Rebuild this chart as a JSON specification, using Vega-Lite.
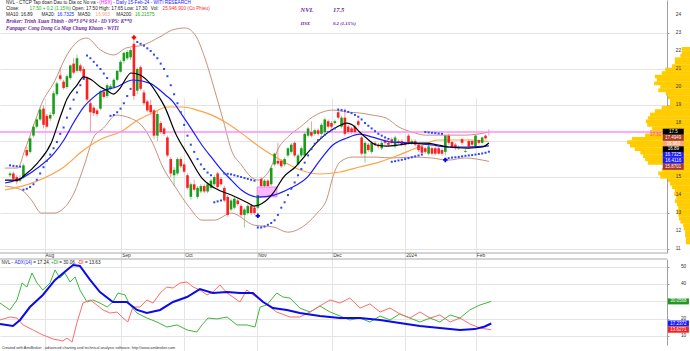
{
"$schema": "https://vega.github.io/schema/vega-lite/v6.json",
"width": 667, "height": 351,
"autosize": {"type": "none"},
"padding": {"left": 0, "top": 0, "right": 23, "bottom": 0},
"background": "white",
"config": {"view": {"stroke": null}, "axis": {"labelFont": "Liberation Sans"}, "text": {"font": "Liberation Sans"}},
"datasets": {
"candles": [
{"t":0,"o":15.1,"h":15.3,"l":15.0,"c":15.2,"sar":15.65},
{"t":1,"o":15.2,"h":15.3,"l":14.85,"c":14.9,"sar":15.62},
{"t":2,"o":15.0,"h":15.1,"l":14.6,"c":14.75,"sar":15.6},
{"t":3,"o":14.8,"h":15.1,"l":14.7,"c":14.95,"sar":15.58},
{"t":4,"o":15.0,"h":15.75,"l":14.9,"c":15.65,"sar":14.3},
{"t":5,"o":16.5,"h":16.7,"l":16.1,"c":16.2,"sar":14.35},
{"t":6,"o":16.4,"h":17.25,"l":16.3,"c":17.15,"sar":14.45},
{"t":7,"o":17.3,"h":17.95,"l":17.2,"c":17.8,"sar":14.6},
{"t":8,"o":17.8,"h":18.3,"l":17.7,"c":18.2,"sar":14.85},
{"t":9,"o":18.2,"h":18.9,"l":18.1,"c":18.75,"sar":15.2},
{"t":10,"o":18.8,"h":19.0,"l":17.7,"c":17.9,"sar":15.55},
{"t":11,"o":18.4,"h":18.5,"l":17.7,"c":17.8,"sar":15.9},
{"t":12,"o":18.25,"h":18.6,"l":18.1,"c":18.45,"sar":16.25},
{"t":13,"o":18.5,"h":19.8,"l":18.4,"c":19.65,"sar":16.6},
{"t":14,"o":19.6,"h":20.3,"l":19.5,"c":20.2,"sar":16.95},
{"t":15,"o":20.65,"h":21.1,"l":20.35,"c":20.45,"sar":17.4},
{"t":16,"o":20.3,"h":20.4,"l":19.85,"c":19.95,"sar":17.75},
{"t":17,"o":20.0,"h":20.7,"l":19.9,"c":20.6,"sar":18.3},
{"t":18,"o":20.5,"h":21.25,"l":20.4,"c":21.2,"sar":18.8},
{"t":19,"o":21.3,"h":21.6,"l":20.7,"c":20.8,"sar":19.3},
{"t":20,"o":20.9,"h":21.8,"l":20.8,"c":21.6,"sar":19.7},
{"t":21,"o":21.2,"h":21.3,"l":20.8,"c":20.9,"sar":20.1},
{"t":22,"o":21.0,"h":21.15,"l":20.4,"c":20.5,"sar":20.45},
{"t":23,"o":20.5,"h":20.6,"l":19.2,"c":19.3,"sar":21.75},
{"t":24,"o":19.1,"h":19.3,"l":17.5,"c":18.6,"sar":21.6},
{"t":25,"o":18.85,"h":18.95,"l":18.4,"c":18.55,"sar":21.4},
{"t":26,"o":18.7,"h":18.8,"l":18.35,"c":18.5,"sar":21.2},
{"t":27,"o":18.8,"h":19.85,"l":18.7,"c":19.75,"sar":21.0},
{"t":28,"o":19.75,"h":19.85,"l":19.35,"c":19.45,"sar":20.75},
{"t":29,"o":19.5,"h":20.2,"l":19.4,"c":20.1,"sar":20.5},
{"t":30,"o":19.9,"h":20.15,"l":19.8,"c":20.05,"sar":18.4},
{"t":31,"o":20.0,"h":20.5,"l":19.9,"c":20.4,"sar":18.45},
{"t":32,"o":20.4,"h":20.95,"l":20.3,"c":20.9,"sar":18.6},
{"t":33,"o":20.85,"h":21.5,"l":20.8,"c":21.4,"sar":18.8},
{"t":34,"o":21.45,"h":21.95,"l":21.3,"c":21.9,"sar":19.1},
{"t":35,"o":21.6,"h":22.05,"l":21.5,"c":21.95,"sar":19.5},
{"t":36,"o":21.65,"h":22.15,"l":21.5,"c":22.05,"sar":19.9},
{"t":37,"o":22.4,"h":22.6,"l":19.3,"c":19.5,"sar":20.3},
{"t":38,"o":19.8,"h":21.1,"l":19.6,"c":21.0,"sar":22.5},
{"t":39,"o":21.1,"h":21.2,"l":19.8,"c":19.9,"sar":22.4},
{"t":40,"o":19.7,"h":19.85,"l":19.0,"c":19.1,"sar":22.3},
{"t":41,"o":19.2,"h":19.3,"l":18.6,"c":18.7,"sar":22.15},
{"t":42,"o":19.0,"h":19.3,"l":18.5,"c":18.6,"sar":22.0},
{"t":43,"o":18.7,"h":18.8,"l":17.1,"c":17.3,"sar":21.8},
{"t":44,"o":17.3,"h":18.7,"l":17.0,"c":18.5,"sar":21.6},
{"t":45,"o":18.0,"h":18.1,"l":17.4,"c":17.5,"sar":21.3},
{"t":46,"o":17.7,"h":17.8,"l":17.3,"c":17.4,"sar":21.0},
{"t":47,"o":17.2,"h":17.3,"l":16.1,"c":16.2,"sar":20.6},
{"t":48,"o":16.0,"h":16.1,"l":15.0,"c":15.2,"sar":20.1},
{"t":49,"o":15.1,"h":15.55,"l":14.5,"c":15.4,"sar":19.6},
{"t":50,"o":15.2,"h":16.1,"l":15.1,"c":16.0,"sar":19.1},
{"t":51,"o":16.0,"h":16.1,"l":15.5,"c":15.6,"sar":18.6},
{"t":52,"o":15.7,"h":15.8,"l":15.2,"c":15.3,"sar":17.9},
{"t":53,"o":15.1,"h":15.2,"l":14.3,"c":14.4,"sar":17.3},
{"t":54,"o":13.9,"h":14.7,"l":13.75,"c":14.6,"sar":16.8},
{"t":55,"o":14.6,"h":14.85,"l":14.2,"c":14.3,"sar":16.4},
{"t":56,"o":13.9,"h":14.5,"l":13.8,"c":14.4,"sar":16.0},
{"t":57,"o":14.2,"h":14.6,"l":14.1,"c":14.5,"sar":15.7},
{"t":58,"o":14.5,"h":14.6,"l":14.1,"c":14.2,"sar":15.45},
{"t":59,"o":14.2,"h":14.7,"l":14.1,"c":14.6,"sar":15.25},
{"t":60,"o":14.4,"h":14.9,"l":14.3,"c":14.8,"sar":15.1},
{"t":61,"o":14.6,"h":15.1,"l":14.5,"c":15.0,"sar":13.6},
{"t":62,"o":15.2,"h":15.3,"l":14.35,"c":14.45,"sar":13.65},
{"t":63,"o":14.9,"h":15.0,"l":14.5,"c":14.6,"sar":13.7},
{"t":64,"o":14.4,"h":14.5,"l":13.6,"c":13.7,"sar":15.2},
{"t":65,"o":13.9,"h":14.0,"l":12.8,"c":12.9,"sar":15.18},
{"t":66,"o":13.2,"h":13.8,"l":13.1,"c":13.7,"sar":15.15},
{"t":67,"o":13.3,"h":13.9,"l":13.2,"c":13.8,"sar":15.1},
{"t":68,"o":13.7,"h":13.8,"l":13.4,"c":13.5,"sar":15.05},
{"t":69,"o":13.4,"h":13.5,"l":12.8,"c":12.9,"sar":15.0},
{"t":70,"o":12.9,"h":13.3,"l":12.2,"c":13.2,"sar":14.95},
{"t":71,"o":13.0,"h":13.5,"l":12.9,"c":13.4,"sar":14.9},
{"t":72,"o":13.4,"h":13.5,"l":12.9,"c":13.0,"sar":14.85},
{"t":73,"o":13.3,"h":13.4,"l":12.9,"c":13.0,"sar":14.8},
{"t":74,"o":13.3,"h":14.1,"l":13.2,"c":14.0,"sar":12.2},
{"t":75,"o":14.9,"h":15.0,"l":14.4,"c":14.5,"sar":12.2},
{"t":76,"o":14.5,"h":14.9,"l":14.4,"c":14.8,"sar":12.25},
{"t":77,"o":14.8,"h":14.9,"l":14.4,"c":14.5,"sar":12.35},
{"t":78,"o":14.6,"h":15.6,"l":14.5,"c":15.5,"sar":12.45},
{"t":79,"o":15.7,"h":16.35,"l":15.6,"c":16.3,"sar":12.6},
{"t":80,"o":15.9,"h":16.9,"l":15.65,"c":15.75,"sar":12.9},
{"t":81,"o":15.9,"h":16.0,"l":15.5,"c":15.6,"sar":13.3},
{"t":82,"o":15.7,"h":16.1,"l":15.6,"c":16.0,"sar":13.6},
{"t":83,"o":16.2,"h":16.65,"l":16.1,"c":16.6,"sar":14.0},
{"t":84,"o":16.4,"h":16.9,"l":16.3,"c":16.8,"sar":14.35},
{"t":85,"o":16.9,"h":17.0,"l":16.1,"c":16.2,"sar":14.7},
{"t":86,"o":15.7,"h":16.3,"l":15.6,"c":16.2,"sar":15.1},
{"t":87,"o":16.2,"h":16.7,"l":16.1,"c":16.6,"sar":15.45},
{"t":88,"o":16.2,"h":17.5,"l":16.1,"c":17.4,"sar":15.8},
{"t":89,"o":17.3,"h":17.8,"l":17.2,"c":17.7,"sar":16.2},
{"t":90,"o":17.5,"h":18.1,"l":17.2,"c":17.3,"sar":16.55},
{"t":91,"o":17.4,"h":17.7,"l":17.3,"c":17.6,"sar":16.85},
{"t":92,"o":17.6,"h":17.7,"l":17.3,"c":17.4,"sar":17.05},
{"t":93,"o":17.4,"h":18.0,"l":17.3,"c":17.9,"sar":17.2},
{"t":94,"o":17.5,"h":18.3,"l":17.4,"c":18.2,"sar":17.35},
{"t":95,"o":18.1,"h":18.2,"l":17.7,"c":17.8,"sar":17.5},
{"t":96,"o":18.0,"h":18.1,"l":17.7,"c":17.8,"sar":17.6},
{"t":97,"o":18.0,"h":18.2,"l":17.9,"c":18.1,"sar":17.7},
{"t":98,"o":18.6,"h":18.7,"l":18.2,"c":18.3,"sar":18.75},
{"t":99,"o":17.8,"h":18.4,"l":17.7,"c":18.3,"sar":18.72},
{"t":100,"o":18.3,"h":18.8,"l":17.3,"c":17.4,"sar":18.68},
{"t":101,"o":17.8,"h":17.9,"l":17.4,"c":17.5,"sar":18.62},
{"t":102,"o":17.7,"h":17.8,"l":17.4,"c":17.5,"sar":18.55},
{"t":103,"o":17.8,"h":17.9,"l":17.4,"c":17.5,"sar":18.45},
{"t":104,"o":18.1,"h":18.2,"l":17.8,"c":17.9,"sar":18.35},
{"t":105,"o":17.2,"h":17.3,"l":16.2,"c":16.3,"sar":18.2},
{"t":106,"o":16.3,"h":17.0,"l":15.8,"c":16.9,"sar":18.0},
{"t":107,"o":16.8,"h":16.9,"l":16.4,"c":16.5,"sar":17.85},
{"t":108,"o":16.4,"h":17.0,"l":16.3,"c":16.9,"sar":17.7},
{"t":109,"o":16.9,"h":17.0,"l":16.7,"c":16.8,"sar":17.55},
{"t":110,"o":16.8,"h":16.9,"l":16.6,"c":16.7,"sar":17.4},
{"t":111,"o":16.6,"h":17.0,"l":16.5,"c":16.9,"sar":17.3},
{"t":112,"o":17.0,"h":17.1,"l":16.8,"c":16.9,"sar":17.2},
{"t":113,"o":16.9,"h":17.0,"l":16.7,"c":16.8,"sar":17.12},
{"t":114,"o":17.1,"h":17.2,"l":16.8,"c":16.9,"sar":15.85},
{"t":115,"o":16.7,"h":17.3,"l":16.6,"c":17.2,"sar":15.88},
{"t":116,"o":17.0,"h":17.1,"l":16.8,"c":16.9,"sar":15.92},
{"t":117,"o":17.0,"h":17.1,"l":16.7,"c":16.8,"sar":15.96},
{"t":118,"o":16.9,"h":17.0,"l":16.7,"c":16.8,"sar":16.0},
{"t":119,"o":17.3,"h":17.4,"l":16.8,"c":16.9,"sar":16.05},
{"t":120,"o":16.9,"h":17.1,"l":16.8,"c":17.0,"sar":16.1},
{"t":121,"o":17.0,"h":17.1,"l":16.7,"c":16.8,"sar":16.15},
{"t":122,"o":16.8,"h":16.9,"l":16.4,"c":16.5,"sar":16.2},
{"t":123,"o":16.7,"h":16.8,"l":16.3,"c":16.35,"sar":16.25},
{"t":124,"o":16.6,"h":16.7,"l":16.3,"c":16.4,"sar":17.5},
{"t":125,"o":16.3,"h":16.8,"l":16.2,"c":16.7,"sar":17.48},
{"t":126,"o":16.6,"h":16.7,"l":16.2,"c":16.3,"sar":17.46},
{"t":127,"o":16.6,"h":16.7,"l":16.2,"c":16.3,"sar":17.44},
{"t":128,"o":16.6,"h":16.7,"l":16.25,"c":16.3,"sar":17.42},
{"t":129,"o":16.5,"h":16.6,"l":16.2,"c":16.3,"sar":17.4},
{"t":130,"o":16.4,"h":17.35,"l":16.2,"c":17.3,"sar":16.0},
{"t":131,"o":17.3,"h":17.4,"l":16.8,"c":16.9,"sar":16.05},
{"t":132,"o":16.95,"h":17.0,"l":16.6,"c":16.65,"sar":16.08},
{"t":133,"o":16.8,"h":16.9,"l":16.5,"c":16.6,"sar":16.1},
{"t":134,"o":16.6,"h":16.75,"l":16.5,"c":16.65,"sar":16.12},
{"t":135,"o":17.1,"h":17.15,"l":16.8,"c":16.9,"sar":16.15},
{"t":136,"o":16.4,"h":16.55,"l":16.35,"c":16.45,"sar":16.18},
{"t":137,"o":17.0,"h":17.1,"l":16.6,"c":16.7,"sar":16.2},
{"t":138,"o":17.0,"h":17.05,"l":16.7,"c":16.8,"sar":16.22},
{"t":139,"o":16.7,"h":17.35,"l":16.6,"c":17.3,"sar":16.25},
{"t":140,"o":17.05,"h":17.1,"l":16.8,"c":16.9,"sar":16.28},
{"t":141,"o":16.9,"h":17.25,"l":16.85,"c":17.2,"sar":16.31},
{"t":142,"o":17.3,"h":17.35,"l":17.1,"c":17.15,"sar":16.35},
{"t":143,"o":17.5,"h":17.65,"l":17.3,"c":17.5,"sar":16.41}
],
"lines": [
{"s":"MA10","t":-1.5,"v":14.83},{"s":"MA10","t":2.3,"v":14.83},{"s":"MA10","t":4.4,"v":15.11},{"s":"MA10","t":8.2,"v":15.78},{"s":"MA10","t":12.3,"v":16.89},{"s":"MA10","t":15.3,"v":18.5},{"s":"MA10","t":17.0,"v":19.33},{"s":"MA10","t":20.0,"v":20.11},{"s":"MA10","t":22.0,"v":20.56},{"s":"MA10","t":24.4,"v":20.39},{"s":"MA10","t":27.0,"v":20.0},{"s":"MA10","t":28.8,"v":19.83},{"s":"MA10","t":30.9,"v":19.61},{"s":"MA10","t":32.9,"v":19.94},{"s":"MA10","t":34.7,"v":20.5},{"s":"MA10","t":36.1,"v":20.78},{"s":"MA10","t":38.8,"v":20.67},{"s":"MA10","t":41.7,"v":20.22},{"s":"MA10","t":44.7,"v":19.39},{"s":"MA10","t":46.1,"v":18.94},{"s":"MA10","t":49.4,"v":17.44},{"s":"MA10","t":53.5,"v":16.11},{"s":"MA10","t":57.3,"v":14.94},{"s":"MA10","t":61.1,"v":14.39},{"s":"MA10","t":66.1,"v":14.0},{"s":"MA10","t":71.1,"v":13.56},{"s":"MA10","t":72.9,"v":13.39},{"s":"MA10","t":75.9,"v":13.61},{"s":"MA10","t":78.8,"v":14.17},{"s":"MA10","t":81.7,"v":15.0},{"s":"MA10","t":85.2,"v":15.56},{"s":"MA10","t":88.8,"v":16.33},{"s":"MA10","t":91.7,"v":16.94},{"s":"MA10","t":94.7,"v":17.44},{"s":"MA10","t":97.6,"v":17.78},{"s":"MA10","t":100.6,"v":18.0},{"s":"MA10","t":102.3,"v":17.89},{"s":"MA10","t":104.4,"v":17.5},{"s":"MA10","t":106.4,"v":17.17},{"s":"MA10","t":109.4,"v":16.78},{"s":"MA10","t":112.3,"v":16.72},{"s":"MA10","t":116.1,"v":16.78},{"s":"MA10","t":120.0,"v":16.89},{"s":"MA10","t":124.1,"v":16.89},{"s":"MA10","t":127.9,"v":16.78},{"s":"MA10","t":130.9,"v":16.67},{"s":"MA10","t":136.7,"v":16.61},{"s":"MA10","t":141.1,"v":16.67},{"s":"MA10","t":143,"v":16.89},
{"s":"MA20","t":-1.5,"v":14.67},{"s":"MA20","t":3.5,"v":14.94},{"s":"MA20","t":8.2,"v":15.5},{"s":"MA20","t":13.2,"v":16.33},{"s":"MA20","t":16.1,"v":17.06},{"s":"MA20","t":19.1,"v":18.06},{"s":"MA20","t":22.0,"v":18.89},{"s":"MA20","t":25.0,"v":19.44},{"s":"MA20","t":27.0,"v":19.72},{"s":"MA20","t":31.7,"v":20.0},{"s":"MA20","t":36.7,"v":20.39},{"s":"MA20","t":41.7,"v":20.22},{"s":"MA20","t":46.4,"v":19.56},{"s":"MA20","t":48.5,"v":19.22},{"s":"MA20","t":51.4,"v":18.44},{"s":"MA20","t":54.4,"v":17.61},{"s":"MA20","t":57.3,"v":16.78},{"s":"MA20","t":60.3,"v":16.06},{"s":"MA20","t":63.2,"v":15.39},{"s":"MA20","t":66.1,"v":14.83},{"s":"MA20","t":69.1,"v":14.28},{"s":"MA20","t":74.1,"v":13.89},{"s":"MA20","t":78.8,"v":14.0},{"s":"MA20","t":83.8,"v":14.39},{"s":"MA20","t":88.8,"v":15.0},{"s":"MA20","t":92.6,"v":15.94},{"s":"MA20","t":96.4,"v":16.78},{"s":"MA20","t":100.6,"v":17.17},{"s":"MA20","t":104.4,"v":17.39},{"s":"MA20","t":108.2,"v":17.22},{"s":"MA20","t":114.1,"v":16.94},{"s":"MA20","t":120.0,"v":16.89},{"s":"MA20","t":125.9,"v":16.78},{"s":"MA20","t":130.9,"v":16.67},{"s":"MA20","t":136.7,"v":16.67},{"s":"MA20","t":143,"v":16.73},
{"s":"MA50","t":-1.5,"v":14.28},{"s":"MA50","t":7.3,"v":14.72},{"s":"MA50","t":16.1,"v":15.56},{"s":"MA50","t":22.0,"v":16.5},{"s":"MA50","t":27.9,"v":17.17},{"s":"MA50","t":32.9,"v":17.5},{"s":"MA50","t":38.2,"v":18.17},{"s":"MA50","t":42.6,"v":18.56},{"s":"MA50","t":47.0,"v":18.89},{"s":"MA50","t":51.4,"v":18.89},{"s":"MA50","t":55.9,"v":18.72},{"s":"MA50","t":60.3,"v":18.44},{"s":"MA50","t":64.7,"v":18.0},{"s":"MA50","t":69.1,"v":17.44},{"s":"MA50","t":75.0,"v":16.61},{"s":"MA50","t":80.9,"v":15.94},{"s":"MA50","t":86.7,"v":15.39},{"s":"MA50","t":92.6,"v":15.17},{"s":"MA50","t":98.5,"v":15.28},{"s":"MA50","t":104.4,"v":15.56},{"s":"MA50","t":110.3,"v":15.83},{"s":"MA50","t":116.1,"v":16.22},{"s":"MA50","t":122.0,"v":16.67},{"s":"MA50","t":127.9,"v":17.06},{"s":"MA50","t":137.6,"v":17.06},{"s":"MA50","t":143,"v":16.96},
{"s":"BBU","t":-1.5,"v":15.5},{"s":"BBU","t":2.3,"v":15.5},{"s":"BBU","t":4.4,"v":16.5},{"s":"BBU","t":7.3,"v":18.0},{"s":"BBU","t":9.4,"v":19.06},{"s":"BBU","t":13.2,"v":20.28},{"s":"BBU","t":17.0,"v":21.78},{"s":"BBU","t":20.0,"v":22.5},{"s":"BBU","t":22.9,"v":22.72},{"s":"BBU","t":27.0,"v":22.06},{"s":"BBU","t":30.9,"v":21.78},{"s":"BBU","t":34.7,"v":22.17},{"s":"BBU","t":39.7,"v":22.33},{"s":"BBU","t":44.7,"v":22.78},{"s":"BBU","t":48.5,"v":23.17},{"s":"BBU","t":52.3,"v":23.28},{"s":"BBU","t":55.3,"v":22.89},{"s":"BBU","t":58.2,"v":21.61},{"s":"BBU","t":61.1,"v":19.83},{"s":"BBU","t":63.8,"v":18.06},{"s":"BBU","t":66.1,"v":16.5},{"s":"BBU","t":69.1,"v":15.67},{"s":"BBU","t":72.0,"v":15.0},{"s":"BBU","t":74.1,"v":14.83},{"s":"BBU","t":75.9,"v":15.0},{"s":"BBU","t":78.0,"v":15.56},{"s":"BBU","t":79.9,"v":16.5},{"s":"BBU","t":82.9,"v":17.22},{"s":"BBU","t":86.7,"v":17.78},{"s":"BBU","t":90.3,"v":18.33},{"s":"BBU","t":92.6,"v":18.56},{"s":"BBU","t":96.4,"v":18.72},{"s":"BBU","t":100.6,"v":18.61},{"s":"BBU","t":104.4,"v":18.56},{"s":"BBU","t":108.2,"v":18.44},{"s":"BBU","t":112.3,"v":18.28},{"s":"BBU","t":116.1,"v":17.78},{"s":"BBU","t":120.0,"v":17.5},{"s":"BBU","t":124.1,"v":17.33},{"s":"BBU","t":127.9,"v":17.33},{"s":"BBU","t":135.8,"v":17.33},{"s":"BBU","t":143,"v":17.49},
{"s":"BBL","t":-1.5,"v":14.5},{"s":"BBL","t":3.5,"v":14.28},{"s":"BBL","t":6.4,"v":13.72},{"s":"BBL","t":9.4,"v":13.0},{"s":"BBL","t":13.2,"v":13.0},{"s":"BBL","t":16.1,"v":13.28},{"s":"BBL","t":19.1,"v":14.11},{"s":"BBL","t":22.0,"v":15.56},{"s":"BBL","t":25.0,"v":17.22},{"s":"BBL","t":27.9,"v":17.72},{"s":"BBL","t":31.7,"v":18.44},{"s":"BBL","t":35.8,"v":18.28},{"s":"BBL","t":39.7,"v":17.78},{"s":"BBL","t":42.6,"v":16.89},{"s":"BBL","t":45.6,"v":15.56},{"s":"BBL","t":49.4,"v":14.44},{"s":"BBL","t":53.5,"v":13.33},{"s":"BBL","t":57.3,"v":12.61},{"s":"BBL","t":61.1,"v":12.61},{"s":"BBL","t":66.1,"v":13.0},{"s":"BBL","t":72.9,"v":12.33},{"s":"BBL","t":78.8,"v":12.22},{"s":"BBL","t":82.9,"v":11.94},{"s":"BBL","t":88.8,"v":12.44},{"s":"BBL","t":91.7,"v":13.0},{"s":"BBL","t":94.7,"v":13.83},{"s":"BBL","t":96.4,"v":15.0},{"s":"BBL","t":98.5,"v":15.83},{"s":"BBL","t":102.3,"v":16.11},{"s":"BBL","t":109.4,"v":16.11},{"s":"BBL","t":114.1,"v":16.06},{"s":"BBL","t":120.0,"v":16.11},{"s":"BBL","t":125.9,"v":16.06},{"s":"BBL","t":130.9,"v":15.94},{"s":"BBL","t":135.8,"v":16.06},{"s":"BBL","t":143,"v":15.87}
],
"vp": [
{"p":22.3,"vol":1.2},{"p":22.1,"vol":1.2},{"p":21.9,"vol":1.4},{"p":21.7,"vol":2.2},{"p":21.5,"vol":2.2},{"p":21.3,"vol":2.6},{"p":21.1,"vol":3.6},{"p":20.9,"vol":4.1},{"p":20.7,"vol":5.1},{"p":20.5,"vol":4.8},{"p":20.3,"vol":5.2},{"p":20.1,"vol":4.3},{"p":19.9,"vol":4.6},{"p":19.7,"vol":3.5},{"p":19.5,"vol":3.2},{"p":19.3,"vol":2.9},{"p":19.1,"vol":2.9},{"p":18.9,"vol":4.1},{"p":18.7,"vol":5.1},{"p":18.5,"vol":5.8},{"p":18.3,"vol":6.1},{"p":18.1,"vol":6.4},{"p":17.9,"vol":6.2},{"p":17.7,"vol":5.5},{"p":17.5,"vol":5.8},{"p":17.3,"vol":6.5},{"p":17.1,"vol":8.4},{"p":16.9,"vol":9.1},{"p":16.7,"vol":8.7},{"p":16.5,"vol":8.0},{"p":16.3,"vol":7.2},{"p":16.1,"vol":6.8},{"p":15.9,"vol":6.5},{"p":15.7,"vol":6.1},{"p":15.5,"vol":3.9},{"p":15.3,"vol":4.1},{"p":15.1,"vol":4.6},{"p":14.9,"vol":4.3},{"p":14.7,"vol":3.2},{"p":14.5,"vol":2.9},{"p":14.3,"vol":2.6},{"p":14.1,"vol":2.2},{"p":13.9,"vol":2.3},{"p":13.7,"vol":2.0},{"p":13.5,"vol":2.2},{"p":13.3,"vol":1.9},{"p":13.1,"vol":1.7},{"p":12.9,"vol":1.9},{"p":12.7,"vol":1.7},{"p":12.5,"vol":1.6},{"p":12.3,"vol":1.4},{"p":12.1,"vol":1.0},{"p":11.9,"vol":0.9},{"p":11.7,"vol":0.7},{"p":11.5,"vol":0.7},{"p":11.3,"vol":0.6},{"p":11.1,"vol":0.6}
],
"adx": [
{"s":"ADX","t":-1.5,"v":17.0},{"s":"ADX","t":2.3,"v":15.8},{"s":"ADX","t":4.4,"v":19.3},{"s":"ADX","t":7.3,"v":26.8},{"s":"ADX","t":11.1,"v":33.8},{"s":"ADX","t":14.7,"v":42.5},{"s":"ADX","t":18.2,"v":48.3},{"s":"ADX","t":20.0,"v":51.2},{"s":"ADX","t":22.0,"v":50.6},{"s":"ADX","t":25.0,"v":42.5},{"s":"ADX","t":27.9,"v":35.5},{"s":"ADX","t":31.7,"v":29.7},{"s":"ADX","t":35.8,"v":29.7},{"s":"ADX","t":38.8,"v":25.1},{"s":"ADX","t":41.7,"v":23.3},{"s":"ADX","t":45.6,"v":25.1},{"s":"ADX","t":49.4,"v":29.7},{"s":"ADX","t":53.5,"v":32.6},{"s":"ADX","t":57.3,"v":37.2},{"s":"ADX","t":61.1,"v":34.9},{"s":"ADX","t":65.3,"v":35.5},{"s":"ADX","t":69.1,"v":34.9},{"s":"ADX","t":72.9,"v":34.9},{"s":"ADX","t":75.9,"v":29.7},{"s":"ADX","t":78.8,"v":26.2},{"s":"ADX","t":82.9,"v":25.1},{"s":"ADX","t":86.7,"v":23.3},{"s":"ADX","t":92.6,"v":21.6},{"s":"ADX","t":98.5,"v":20.4},{"s":"ADX","t":104.4,"v":20.4},{"s":"ADX","t":110.3,"v":19.3},{"s":"ADX","t":116.1,"v":17.5},{"s":"ADX","t":122.0,"v":15.8},{"s":"ADX","t":127.9,"v":14.6},{"s":"ADX","t":133.8,"v":13.5},{"s":"ADX","t":138.2,"v":14.0},{"s":"ADX","t":141.1,"v":15.5},{"s":"ADX","t":143,"v":17.24},
{"s":"PDI","t":-1.5,"v":29.1},{"s":"PDI","t":1.4,"v":25.1},{"s":"PDI","t":3.5,"v":30.9},{"s":"PDI","t":5.0,"v":40.7},{"s":"PDI","t":6.4,"v":38.4},{"s":"PDI","t":7.9,"v":46.5},{"s":"PDI","t":9.4,"v":40.7},{"s":"PDI","t":11.1,"v":36.7},{"s":"PDI","t":13.2,"v":40.7},{"s":"PDI","t":14.7,"v":48.3},{"s":"PDI","t":16.1,"v":43.6},{"s":"PDI","t":17.6,"v":46.5},{"s":"PDI","t":19.1,"v":41.3},{"s":"PDI","t":20.6,"v":44.2},{"s":"PDI","t":22.0,"v":36.7},{"s":"PDI","t":24.1,"v":29.7},{"s":"PDI","t":25.8,"v":30.9},{"s":"PDI","t":27.9,"v":29.1},{"s":"PDI","t":30.0,"v":26.8},{"s":"PDI","t":31.7,"v":29.7},{"s":"PDI","t":33.2,"v":34.9},{"s":"PDI","t":35.3,"v":33.8},{"s":"PDI","t":36.7,"v":28.0},{"s":"PDI","t":38.8,"v":23.3},{"s":"PDI","t":41.7,"v":20.4},{"s":"PDI","t":44.7,"v":18.1},{"s":"PDI","t":47.6,"v":15.2},{"s":"PDI","t":50.6,"v":16.4},{"s":"PDI","t":53.5,"v":13.5},{"s":"PDI","t":56.4,"v":12.3},{"s":"PDI","t":57.9,"v":16.4},{"s":"PDI","t":59.7,"v":20.4},{"s":"PDI","t":62.3,"v":19.9},{"s":"PDI","t":65.3,"v":21.0},{"s":"PDI","t":68.2,"v":16.4},{"s":"PDI","t":71.1,"v":16.4},{"s":"PDI","t":73.5,"v":15.2},{"s":"PDI","t":75.0,"v":26.8},{"s":"PDI","t":77.0,"v":28.0},{"s":"PDI","t":79.9,"v":34.9},{"s":"PDI","t":81.7,"v":32.6},{"s":"PDI","t":83.8,"v":32.0},{"s":"PDI","t":86.7,"v":26.2},{"s":"PDI","t":89.7,"v":23.9},{"s":"PDI","t":92.6,"v":27.4},{"s":"PDI","t":95.6,"v":23.9},{"s":"PDI","t":98.5,"v":21.6},{"s":"PDI","t":101.4,"v":19.3},{"s":"PDI","t":104.4,"v":20.4},{"s":"PDI","t":107.3,"v":18.1},{"s":"PDI","t":110.3,"v":21.6},{"s":"PDI","t":113.2,"v":19.3},{"s":"PDI","t":116.1,"v":22.8},{"s":"PDI","t":119.1,"v":20.4},{"s":"PDI","t":122.0,"v":18.1},{"s":"PDI","t":125.0,"v":20.4},{"s":"PDI","t":127.9,"v":18.1},{"s":"PDI","t":130.9,"v":22.2},{"s":"PDI","t":133.8,"v":20.4},{"s":"PDI","t":136.7,"v":25.1},{"s":"PDI","t":139.7,"v":28.0},{"s":"PDI","t":143,"v":30.06},
{"s":"MDI","t":-1.5,"v":19.3},{"s":"MDI","t":1.4,"v":21.0},{"s":"MDI","t":3.5,"v":20.4},{"s":"MDI","t":5.3,"v":16.4},{"s":"MDI","t":8.2,"v":13.5},{"s":"MDI","t":11.1,"v":10.6},{"s":"MDI","t":14.1,"v":8.3},{"s":"MDI","t":17.0,"v":7.1},{"s":"MDI","t":18.2,"v":8.8},{"s":"MDI","t":19.7,"v":6.5},{"s":"MDI","t":21.1,"v":17.5},{"s":"MDI","t":22.9,"v":29.1},{"s":"MDI","t":25.0,"v":30.9},{"s":"MDI","t":27.0,"v":28.0},{"s":"MDI","t":28.8,"v":25.1},{"s":"MDI","t":30.9,"v":23.3},{"s":"MDI","t":32.9,"v":23.9},{"s":"MDI","t":34.7,"v":20.4},{"s":"MDI","t":36.1,"v":18.1},{"s":"MDI","t":37.6,"v":26.8},{"s":"MDI","t":39.7,"v":26.8},{"s":"MDI","t":41.7,"v":30.9},{"s":"MDI","t":43.5,"v":29.1},{"s":"MDI","t":45.6,"v":34.9},{"s":"MDI","t":47.6,"v":38.4},{"s":"MDI","t":49.4,"v":37.8},{"s":"MDI","t":51.4,"v":40.7},{"s":"MDI","t":53.5,"v":41.3},{"s":"MDI","t":55.3,"v":38.4},{"s":"MDI","t":57.3,"v":36.7},{"s":"MDI","t":59.4,"v":33.8},{"s":"MDI","t":61.1,"v":35.5},{"s":"MDI","t":63.2,"v":39.6},{"s":"MDI","t":65.3,"v":34.9},{"s":"MDI","t":67.0,"v":32.6},{"s":"MDI","t":69.1,"v":29.7},{"s":"MDI","t":71.1,"v":36.7},{"s":"MDI","t":72.9,"v":33.8},{"s":"MDI","t":75.9,"v":29.7},{"s":"MDI","t":79.9,"v":23.9},{"s":"MDI","t":83.8,"v":21.0},{"s":"MDI","t":86.7,"v":21.0},{"s":"MDI","t":89.7,"v":23.9},{"s":"MDI","t":92.6,"v":27.4},{"s":"MDI","t":95.6,"v":30.9},{"s":"MDI","t":98.5,"v":29.1},{"s":"MDI","t":101.4,"v":32.0},{"s":"MDI","t":104.4,"v":26.2},{"s":"MDI","t":107.3,"v":28.6},{"s":"MDI","t":110.3,"v":23.9},{"s":"MDI","t":113.2,"v":26.2},{"s":"MDI","t":116.1,"v":22.8},{"s":"MDI","t":119.1,"v":20.4},{"s":"MDI","t":122.0,"v":23.9},{"s":"MDI","t":125.0,"v":20.4},{"s":"MDI","t":127.9,"v":22.2},{"s":"MDI","t":130.9,"v":18.1},{"s":"MDI","t":133.8,"v":20.4},{"s":"MDI","t":136.7,"v":17.0},{"s":"MDI","t":139.7,"v":14.6},{"s":"MDI","t":143,"v":13.63}
],
"ptags": [
{"lab":"17.5","k":"close","at":17.52},{"lab":"17.4949","k":"bbu","at":17.18},{"lab":"16.963","k":"ma50","at":16.83},{"lab":"16.89","k":"ma10","at":16.54},{"lab":"16.7325","k":"ma20","at":16.24},{"lab":"16.4116","k":"sar","at":15.91},{"lab":"15.8701","k":"bbl","at":15.57}
],
"atags": [
{"lab":"30.0568","k":"pdi","at":30.06},{"lab":"17.2372","k":"adx","at":17.24},{"lab":"13.6271","k":"mdi","at":13.63}
],
"pticks": [{"v":11},{"v":12},{"v":13},{"v":14},{"v":15},{"v":18},{"v":19},{"v":20},{"v":21},{"v":22},{"v":23},{"v":24}],
"aticks": [{"v":10},{"v":20},{"v":40},{"v":50}],
"hdr": [
{"txt":"NVL - CTCP Tap doan Dau tu Dia oc No va -","t":-1.21,"p":24.683,"k":"plain"},
{"txt":"(HSX)","t":26.68,"p":24.683,"k":"exch"},
{"txt":"- Daily 15-Feb-24 - WITI RESEARCH","t":30.82,"p":24.683,"k":"info"},
{"txt":"Close:","t":-1.21,"p":24.333,"k":"plain"},
{"txt":"17.50 + 0.2 (1.15%)","t":5.85,"p":24.333,"k":"chg"},
{"txt":"Open: 17.50 High: 17.65 Low: 17.30","t":18.5,"p":24.333,"k":"plain"},
{"txt":"Vol:","t":42.03,"p":24.333,"k":"plain"},
{"txt":"25,946,900 (Co Phieu)","t":45.56,"p":24.333,"k":"vol"},
{"txt":"MA10: 16.89","t":-1.21,"p":24.0,"k":"plain"},
{"txt":"MA20:","t":9.38,"p":24.0,"k":"plain"},
{"txt":"16.7325","t":14.09,"p":24.0,"k":"ma20"},
{"txt":"MA50:","t":20.26,"p":24.0,"k":"plain"},
{"txt":"16.963","t":25.56,"p":24.0,"k":"ma50"},
{"txt":"MA200:","t":31.74,"p":24.0,"k":"plain"},
{"txt":"16.21575","t":37.32,"p":24.0,"k":"ma200"}
],
"serif": [
{"txt":"Broker: Trinh Xuan Thinh - 09*3 0*4 934 - ID VPS: K**0","t":-1.21,"p":23.65},
{"txt":"Fanpage: Cong Dong Co Map Chung Khoan - WITI","t":-1.21,"p":23.294}
],
"topc": [
{"txt":"NVL","t":86.73,"p":24.278,"line":"code"},
{"txt":"17.5","t":96.44,"p":24.278,"line":"code"},
{"txt":"HSX","t":86.73,"p":23.5,"line":"exch"},
{"txt":"0.2 (1.15%)","t":96.44,"p":23.5,"line":"exch"}
],
"ahdr": [
{"txt":"NVL -","t":-1.06,"p":52.49,"k":"plain"},
{"txt":"ADX(14)","t":2.76,"p":52.49,"k":"adx"},
{"txt":"= 17.24,","t":8.3,"p":52.49,"k":"plain"},
{"txt":"+DI","t":13.5,"p":52.49,"k":"pdi"},
{"txt":"= 30.06,","t":15.95,"p":52.49,"k":"plain"},
{"txt":"-DI","t":21.29,"p":52.49,"k":"mdi"},
{"txt":"= 13.63","t":23.5,"p":52.49,"k":"plain"}
],
"credit": [{"txt":"Created with AmiBroker - advanced charting and technical analysis software. http://www.amibroker.com","t":-1.0,"p":2.87}],
"months": [{"m":"Aug","t":10.3},{"m":"Sep","t":33.2},{"m":"Oct","t":52.0},{"m":"Nov","t":73.8},{"m":"Dec","t":96.2},{"m":"2024","t":118.0},{"m":"Feb","t":139.1}],
"sig": [{"t":37,"p":22.75,"k":"sell"},{"t":74,"p":12.85,"k":"buy"},{"t":130,"p":15.95,"k":"buy"}],
"zone": [{"t1":73.8,"t2":79.7,"p1":13.9,"p2":14.45}],
"pline": [{"p":17.5,"lab":"17.50"}]
},
"layer": [
{
"data": {"name": "vp"},
"mark": {"type": "bar", "orient": "horizontal", "size": 3.7, "color": "#ffcc00"},
"encoding": {
"y": {"field": "p", "type": "quantitative", "scale": {"domain": [10.7833, 24.8333], "range": [253, 0], "zero": false, "nice": false}, "axis": null},
"x": {"field": "vol", "type": "quantitative", "scale": {"domain": [0, 100], "range": [690, 0], "nice": false}, "axis": null}
}
},
{
"layer": [
{"data": {"name": "candles"}, "mark": {"type": "rule", "strokeWidth": 1},
 "encoding": {
  "x": {"field": "t", "type": "quantitative", "scale": {"domain": [-1.5, 194.7], "nice": false, "zero": false},
        "axis": {"orient": "bottom", "values": [10.3, 33.2, 52, 73.8, 96.2, 118, 139.1], "grid": true, "gridColor": "#e4e4e4", "labels": false, "ticks": false, "domain": false, "title": null}},
  "y": {"field": "l", "type": "quantitative", "scale": {"domain": [10.7833, 24.8333], "range": [253, 0], "zero": false, "nice": false},
        "axis": {"orient": "right", "values": [11,12,13,14,15,16,17,18,19,20,21,22,23,24], "grid": true, "gridColor": "#e4e4e4", "domainColor": "#a0a0a0", "tickColor": "#a0a0a0", "tickSize": 2, "labels": false, "title": null}},
  "y2": {"field": "h"},
  "color": {"condition": {"test": "datum.c > datum.o", "value": "#8fd18f"}, "value": "#f59a9a"}
 }},
{"data": {"name": "zone"}, "mark": {"type": "rect", "fill": "#ffb8ff", "stroke": "#e07ae0", "strokeWidth": 0.8},
 "encoding": {"x": {"field": "t1", "type": "quantitative", "title": null}, "x2": {"field": "t2"}, "y": {"field": "p1", "type": "quantitative", "title": null}, "y2": {"field": "p2"}}},
{"data": {"name": "lines"}, "transform": [{"filter": "datum.s == 'BBU' || datum.s == 'BBL'"}],
 "mark": {"type": "line", "stroke": "#c9917c", "strokeWidth": 1, "interpolate": "monotone"},
 "encoding": {"x": {"field": "t", "type": "quantitative", "title": null}, "y": {"field": "v", "type": "quantitative", "title": null}, "detail": {"field": "s"}}},
{"data": {"name": "lines"}, "transform": [{"filter": "datum.s == 'MA50'"}],
 "mark": {"type": "line", "stroke": "#ffa347", "strokeWidth": 1.2, "interpolate": "monotone"},
 "encoding": {"x": {"field": "t", "type": "quantitative", "title": null}, "y": {"field": "v", "type": "quantitative", "title": null}}},
{"data": {"name": "pline"}, "mark": {"type": "rule", "stroke": "#ff8cff", "strokeWidth": 1.5},
 "encoding": {"y": {"field": "p", "type": "quantitative", "title": null}}},
{"data": {"name": "candles"}, "mark": {"type": "bar", "size": 2.6},
 "encoding": {"x": {"field": "t", "type": "quantitative", "title": null}, "y": {"field": "o", "type": "quantitative", "title": null}, "y2": {"field": "c"},
  "color": {"condition": {"test": "datum.c > datum.o", "value": "#1a9e1a"}, "value": "#ff1f1f"}}},
{"data": {"name": "lines"}, "transform": [{"filter": "datum.s == 'MA20'"}],
 "mark": {"type": "line", "stroke": "#1a1aff", "strokeWidth": 1.2, "interpolate": "monotone"},
 "encoding": {"x": {"field": "t", "type": "quantitative", "title": null}, "y": {"field": "v", "type": "quantitative", "title": null}}},
{"data": {"name": "lines"}, "transform": [{"filter": "datum.s == 'MA10'"}],
 "mark": {"type": "line", "stroke": "#000000", "strokeWidth": 1.2, "interpolate": "monotone"},
 "encoding": {"x": {"field": "t", "type": "quantitative", "title": null}, "y": {"field": "v", "type": "quantitative", "title": null}}},
{"data": {"name": "candles"}, "mark": {"type": "point", "shape": "square", "size": 4, "filled": true, "color": "#2a46ff", "opacity": 1},
 "encoding": {"x": {"field": "t", "type": "quantitative", "title": null}, "y": {"field": "sar", "type": "quantitative", "title": null}}},
{"data": {"name": "sig"}, "mark": {"type": "point", "shape": "cross", "size": 20, "filled": true, "opacity": 1},
 "encoding": {"x": {"field": "t", "type": "quantitative", "title": null}, "y": {"field": "p", "type": "quantitative", "title": null},
  "color": {"condition": {"test": "datum.k == 'sell'", "value": "#ff0000"}, "value": "#0000ff"}}},
{"data": {"name": "pline"}, "mark": {"type": "text", "align": "left", "baseline": "middle", "fontSize": 4.5, "color": "#ff3d8b", "dy": 3},
 "encoding": {"x": {"datum": 191.1}, "y": {"field": "p", "type": "quantitative", "title": null}, "text": {"field": "lab"}}},
{"data": {"name": "pticks"}, "mark": {"type": "text", "align": "left", "baseline": "middle", "fontSize": 4.8, "color": "#333333"},
 "encoding": {"x": {"datum": 198.8}, "y": {"field": "v", "type": "quantitative", "title": null}, "text": {"field": "v", "type": "quantitative"}}},
{"data": {"name": "ptags"}, "mark": {"type": "point", "shape": "M-1,-0.2857L1,-0.2857L1,0.2857L-1,0.2857Z", "size": 441, "filled": true, "opacity": 1, "strokeWidth": 0},
 "encoding": {"x": {"datum": 198.06}, "y": {"field": "at", "type": "quantitative", "title": null},
  "color": {"field": "k", "type": "nominal", "legend": null, "scale": {"domain": ["close","bbu","ma50","ma10","ma20","sar","bbl","plain","exch","info","chg","vol","ma200"], "range": ["#000000","#a8362a","#f4a77c","#000000","#1a1aff","#1a1aff","#a8362a","#1a1a1a","#ff00ff","#2020ff","#22b022","#ff2a2a","#22b022"]}}}},
{"data": {"name": "ptags"}, "mark": {"type": "text", "align": "center", "baseline": "middle", "fontSize": 4.5, "color": "#ffffff"},
 "encoding": {"x": {"datum": 198.06}, "y": {"field": "at", "type": "quantitative", "title": null}, "text": {"field": "lab"}}},
{"data": {"name": "hdr"}, "mark": {"type": "text", "align": "left", "baseline": "middle", "fontSize": 4.7, "font": "Liberation Sans"},
 "encoding": {"x": {"field": "t", "type": "quantitative", "title": null}, "y": {"field": "p", "type": "quantitative", "title": null}, "text": {"field": "txt"},
  "color": {"field": "k", "type": "nominal", "legend": null}}},
{"data": {"name": "serif"}, "mark": {"type": "text", "align": "left", "baseline": "middle", "fontSize": 5.2, "font": "Liberation Serif", "fontStyle": "italic", "fontWeight": "bold", "color": "#6a1f9e"},
 "encoding": {"x": {"field": "t", "type": "quantitative", "title": null}, "y": {"field": "p", "type": "quantitative", "title": null}, "text": {"field": "txt"}}},
{"data": {"name": "topc"}, "transform": [{"filter": "datum.line == 'code'"}], "mark": {"type": "text", "align": "left", "baseline": "middle", "fontSize": 6.5, "font": "Liberation Serif", "fontStyle": "italic", "fontWeight": "bold", "color": "#6a1f9e"},
 "encoding": {"x": {"field": "t", "type": "quantitative", "title": null}, "y": {"field": "p", "type": "quantitative", "title": null}, "text": {"field": "txt"}}},
{"data": {"name": "topc"}, "transform": [{"filter": "datum.line == 'exch'"}], "mark": {"type": "text", "align": "left", "baseline": "middle", "fontSize": 4.8, "font": "Liberation Serif", "fontStyle": "italic", "fontWeight": "bold", "color": "#6a1f9e"},
 "encoding": {"x": {"field": "t", "type": "quantitative", "title": null}, "y": {"field": "p", "type": "quantitative", "title": null}, "text": {"field": "txt"}}},
{"data": {"name": "months"}, "mark": {"type": "text", "align": "left", "baseline": "middle", "fontSize": 4.8, "color": "#333333", "dx": 1},
 "encoding": {"x": {"field": "t", "type": "quantitative", "title": null}, "y": {"datum": 10.6}, "text": {"field": "m"}}},
{"data": {"name": "pline"}, "mark": {"type": "rule", "stroke": "#a8a8a8", "strokeWidth": 1},
 "encoding": {"y": {"datum": 10.7833}}}
]
},
{
"layer": [
{"data": {"name": "adx"}, "transform": [{"filter": "datum.s == 'PDI'"}],
 "mark": {"type": "line", "stroke": "#3cb83c", "strokeWidth": 1},
 "encoding": {
  "x": {"field": "t", "type": "quantitative", "scale": {"domain": [-1.5, 194.7], "nice": false, "zero": false}, "axis": null},
  "y": {"field": "v", "type": "quantitative", "scale": {"domain": [4.78, 54.64], "range": [345, 259], "zero": false, "nice": false},
        "axis": {"orient": "right", "values": [10, 20, 30, 40, 50], "grid": true, "gridColor": "#e4e4e4", "domainColor": "#a0a0a0", "tickColor": "#a0a0a0", "tickSize": 2, "labels": false, "title": null}}
 }},
{"data": {"name": "adx"}, "transform": [{"filter": "datum.s == 'MDI'"}],
 "mark": {"type": "line", "stroke": "#ff6a6a", "strokeWidth": 1},
 "encoding": {"x": {"field": "t", "type": "quantitative", "title": null}, "y": {"field": "v", "type": "quantitative", "title": null}}},
{"data": {"name": "adx"}, "transform": [{"filter": "datum.s == 'ADX'"}],
 "mark": {"type": "line", "stroke": "#0a0aee", "strokeWidth": 2},
 "encoding": {"x": {"field": "t", "type": "quantitative", "title": null}, "y": {"field": "v", "type": "quantitative", "title": null}}},
{"data": {"name": "aticks"}, "mark": {"type": "text", "align": "left", "baseline": "middle", "fontSize": 4.8, "color": "#333333"},
 "encoding": {"x": {"datum": 198.8}, "y": {"field": "v", "type": "quantitative", "title": null}, "text": {"field": "v", "type": "quantitative"}}},
{"data": {"name": "atags"}, "mark": {"type": "point", "shape": "M-1,-0.2857L1,-0.2857L1,0.2857L-1,0.2857Z", "size": 441, "filled": true, "opacity": 1, "strokeWidth": 0},
 "encoding": {"x": {"datum": 198.06}, "y": {"field": "at", "type": "quantitative", "title": null},
  "color": {"field": "k", "type": "nominal", "legend": null, "scale": {"domain": ["pdi","adx","mdi","plain"], "range": ["#1f9a1f","#1a1aff","#ff2020","#1a1a1a"]}}}},
{"data": {"name": "atags"}, "mark": {"type": "text", "align": "center", "baseline": "middle", "fontSize": 4.5, "color": "#ffffff"},
 "encoding": {"x": {"datum": 198.06}, "y": {"field": "at", "type": "quantitative", "title": null}, "text": {"field": "lab"}}},
{"data": {"name": "ahdr"}, "mark": {"type": "text", "align": "left", "baseline": "middle", "fontSize": 4.6},
 "encoding": {"x": {"field": "t", "type": "quantitative", "title": null}, "y": {"field": "p", "type": "quantitative", "title": null}, "text": {"field": "txt"},
  "color": {"field": "k", "type": "nominal", "legend": null}}},
{"data": {"name": "credit"}, "mark": {"type": "text", "align": "left", "baseline": "middle", "fontSize": 3.8, "color": "#333333"},
 "encoding": {"x": {"field": "t", "type": "quantitative", "title": null}, "y": {"field": "p", "type": "quantitative", "title": null}, "text": {"field": "txt"}}},
{"data": {"name": "credit"}, "mark": {"type": "rule", "stroke": "#a8a8a8", "strokeWidth": 1},
 "encoding": {"y": {"datum": 54.64}}}
]
}
],
"resolve": {"scale": {"x": "independent", "y": "independent", "color": "independent"}}
}
